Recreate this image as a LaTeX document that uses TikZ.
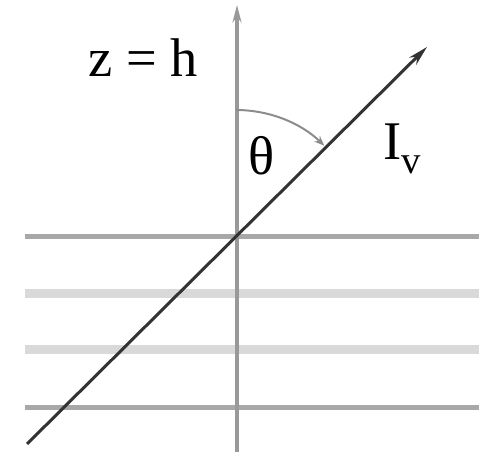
\documentclass[tikz,border=0pt]{standalone}
\usepackage{amsmath}
\usepackage{fontspec}
\setmainfont{Liberation Serif}
\usepackage{tikz}
\usetikzlibrary{arrows.meta}
\tikzset{
  layerdark/.style={
    draw=black!34,
    line width=0.1cm
  },
  layerlight/.style={
    draw=black!15,
    line width=0.18cm
  },
  zaxis/.style={
    -{Stealth[length=0.35cm,width=0.18cm]},
    draw=black!40,
    line width=0.1cm
  },
  rayarrow/.style={
    -{Stealth[length=0.4cm,width=0.2cm]},
    draw=black!80,
    line width=0.06cm
  },
  anglearc/.style={
    -{Stealth[length=0.2cm,width=0.16cm]},
    draw=black!45,
    line width=0.04cm
  },
  biglabel/.style={
    inner sep=0pt,
    font=\fontsize{31}{37}\selectfont
  }
}
\begin{document}
\begin{tikzpicture}[x=0.02cm,y=0.02cm]
    \useasboundingbox (0,0) rectangle (488,455);

    % layers
    \draw[layerdark] (25,218) -- (479,218);
    \draw[layerlight] (25,161) -- (479,161);
    \draw[layerlight] (25,105) -- (479,105);
    \draw[layerdark] (25,47) -- (479,47);

    \coordinate (O) at (236,218);
    \coordinate (zbot) at (237,3);
    \coordinate (ztop) at (237,450);
    \coordinate (rstart) at (27,11);
    \coordinate (rend) at (427,408);

    \draw[zaxis] (zbot) -- (ztop);
    \draw[rayarrow] (rstart) -- (rend);
    \draw[anglearc] ([shift={(90:127)}]O) arc[start angle=90,end angle=46,radius=127];

    \node[biglabel, anchor=base west] (zh) at (88,378) {z = h};
    \node[biglabel, anchor=base] (theta) at (262,280) {θ};
    \node[biglabel, anchor=base west] (Iv) at (383,295) {I\raisebox{-0.25em}{\fontsize{22}{26}\selectfont v}};
\end{tikzpicture}
\end{document}
